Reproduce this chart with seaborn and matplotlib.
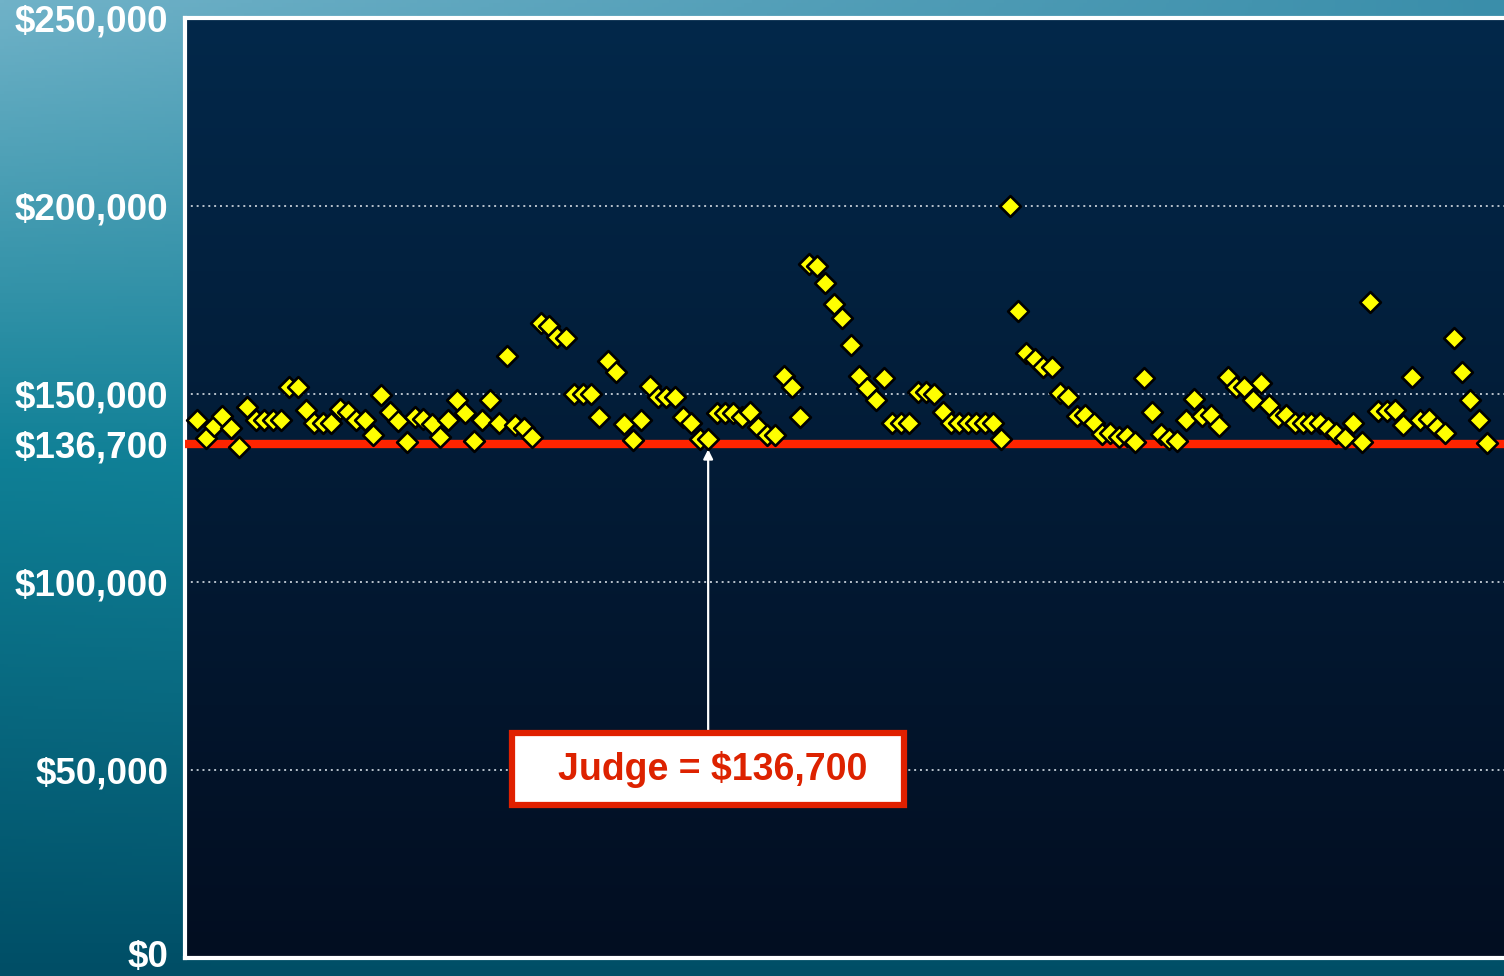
import numpy as np
import pandas as pd
import seaborn as sns
import matplotlib.pyplot as plt
import matplotlib.transforms as mtransforms
from matplotlib.patches import Rectangle

# jury awards, one per case (dollars)
awards = [
    143100, 138300, 141500, 144100, 141000, 135900, 146500, 143100, 143100, 143100,
    143100, 151900, 151900, 145700, 142300, 142300, 142300, 146000, 145200, 143100,
    143100, 139100, 149700, 145200, 142800, 137200, 143900, 143400, 142000, 138600,
    143100, 148400, 144900, 137500, 143100, 148400, 142300, 160100, 141800, 141000,
    138600, 169000, 168100, 165200, 164900, 150000, 150000, 150000, 143900, 158800,
    155900, 142000, 137800, 143100, 152200, 149300, 149300, 149300, 143900, 142300,
    138000, 138000, 144900, 144900, 144900, 143900, 145200, 141200, 139100, 139100,
    154700, 151900, 143900, 184700, 184000, 179500, 173900, 170200, 163000, 154700,
    151600, 148400, 154300, 142300, 142300, 142300, 150500, 150500, 150000, 145200,
    142300, 142300, 142300, 142300, 142300, 142300, 138000, 200000, 172100, 160900,
    159300, 157200, 157200, 150200, 149300, 144200, 144400, 142300, 139400, 139600,
    138600, 138800, 137200, 154300, 145200, 139400, 138000, 137500, 143100, 148700,
    144200, 144400, 141500, 154600, 151900, 151900, 148400, 152900, 147100, 143900,
    144400, 142300, 142300, 142300, 142300, 141000, 139600, 138300, 142300, 137200,
    174500, 145500, 145500, 145700, 141800, 154600, 143100, 143400, 141200, 139600,
    164900, 155900, 148400, 143100, 137000,
]
judge = 136700
ytick_vals = [0, 50000, 100000, 136700, 150000, 200000, 250000]
ytick_labels = ["$0", "$50,000", "$100,000", "$136,700", "$150,000", "$200,000", "$250,000"]
grid_vals = [50000, 100000, 150000, 200000]

df = pd.DataFrame({"case": range(len(awards)), "award": awards})

sns.set_theme(style="white")
plt.rcParams["font.family"] = ["Liberation Sans", "DejaVu Sans"]

fig = plt.figure(figsize=(15.04, 9.76), dpi=100)

# teal slide background
bg = fig.add_axes([0, 0, 1, 1], zorder=-10)
yy, xx = np.mgrid[0:1:300j, 0:1:400j]
top = np.array([112, 178, 200]) / 255
mid = np.array([15, 128, 150]) / 255
bot = np.array([0, 78, 102]) / 255
t = yy[..., None]
left = np.where(t < 0.47, top + (mid - top) * (t / 0.47), mid + (bot - mid) * ((t - 0.47) / 0.53))
dark = np.array([40, 130, 160]) / 255
k = (xx * (1 - yy))[..., None] * 0.75
img = left * (1 - k) + dark * k
bg.imshow(img, aspect="auto", extent=[0, 1, 0, 1])
bg.axis("off")

ax = fig.add_axes([185 / 1504, 18 / 976, 1 - 185 / 1504, 940 / 976])

# dark navy plot area
g = np.linspace(0, 1, 256)[:, None]
c_top = np.array([2, 40, 74]) / 255
c_bot = np.array([3, 14, 33]) / 255
panel = (c_top + (c_bot - c_top) * g[..., None]) * np.ones((1, 2, 1))
ax.imshow(panel, aspect="auto", extent=[0, 1, 0, 1], transform=ax.transAxes, zorder=0)

for gv in grid_vals:
    ax.axhline(gv, color="#b8c2cc", lw=1.4, ls=(0, (1.0, 2.0)), zorder=1)

ax.axhline(judge, color="#ff2400", lw=6, zorder=3)

sns.scatterplot(data=df, x="case", y="award", marker="D", s=112, color="#ffff00",
                edgecolor="black", linewidth=1.9, zorder=5, ax=ax, legend=False)

# judge callout
ax.annotate("", xy=(61, 135300), xytext=(61, 59800),
            arrowprops=dict(arrowstyle="-|>", color="white", lw=1.6,
                            mutation_scale=14, shrinkA=0, shrinkB=0), zorder=4)
ax.add_patch(Rectangle((61 - 23.4, 40700), 46.8, 19150, facecolor="white",
                       edgecolor="#e02000", lw=4.5, zorder=6))
ax.text(61.5, 50200, "Judge = $136,700", ha="center", va="center", color="#dd2200",
        fontsize=27, fontweight="bold", zorder=7)

ax.set_xlim(-1.45, 156.0)
ax.set_ylim(0, 250000)
ax.set_xticks([])
ax.set_yticks(ytick_vals)
ax.set_yticklabels(ytick_labels, fontweight="bold")
ax.tick_params(axis="y", length=0, pad=12, labelsize=26.5, labelcolor="white")
# nudge the $0 label up so it stays inside the picture
lab0 = ax.get_yticklabels()[0]
lab0.set_transform(lab0.get_transform() + mtransforms.ScaledTranslation(0, 5 / 100, fig.dpi_scale_trans))
ax.set_xlabel("")
ax.set_ylabel("")
for side in ["left", "top", "bottom"]:
    ax.spines[side].set_color("white")
    ax.spines[side].set_linewidth(3)
ax.spines["right"].set_visible(False)

fig.savefig("out.png", dpi=100)
